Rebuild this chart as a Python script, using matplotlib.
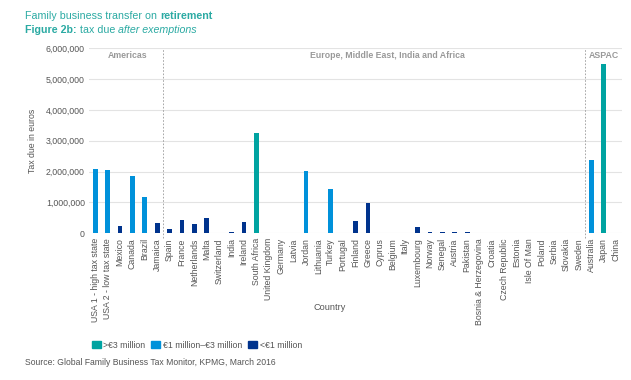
import matplotlib.pyplot as plt
from matplotlib.patches import Patch
from matplotlib.ticker import FuncFormatter

plt.rcParams['font.family'] = ['Liberation Sans', 'DejaVu Sans']

# Datos (impuesto en euros)
paises = [
    "USA 1 - high tax state", "USA 2 - low tax state", "Mexico", "Canada",
    "Brazil", "Jamaica", "Spain", "France", "Netherlands", "Malta",
    "Switzerland", "India", "Ireland", "South Africa", "United Kingdom",
    "Germany", "Latvia", "Jordan", "Lithuania", "Turkey", "Portugal",
    "Finland", "Greece", "Cyprus", "Belgium", "Italy", "Luxembourg",
    "Norway", "Senegal", "Austria", "Pakistan", "Bosnia & Herzegovina",
    "Croatia", "Czech Republic", "Estonia", "Isle Of Man", "Poland",
    "Serbia", "Slovakia", "Sweden", "Australia", "Japan", "China",
]
impuesto = [
    2080000, 2050000, 240000, 1870000, 1180000, 330000, 140000, 430000,
    290000, 500000, 0, 40000, 370000, 3240000, 0, 0, 0, 2030000, 0,
    1430000, 0, 390000, 990000, 0, 0, 0, 190000, 30000, 30000, 30000,
    30000, 0, 0, 0, 0, 0, 0, 0, 0, 0, 2380000, 5480000, 0,
]
regiones = ["Americas", "Europe, Middle East, India and Africa", "ASPAC"]
centros_regiones = [2.6, 23.6, 41.0]
limites_regiones = [5.5, 39.5]

TEAL = "#00A3A1"
AZUL = "#0091DA"
AZUL_OSCURO = "#00338D"
GRIS = "#555555"
VERDE_TITULO = "#2BAAA3"


def color_de(v):
    if v > 3000000:
        return TEAL
    if v >= 1000000:
        return AZUL
    return AZUL_OSCURO


def texto_seguido(fig, x, y, partes):
    # escribe varios trozos de texto uno detras del otro en la misma linea
    r = fig.canvas.get_renderer()
    for txt, kw in partes:
        t = fig.text(x, y, txt, fontsize=7.7, color=VERDE_TITULO, **kw)
        bb = t.get_window_extent(renderer=r)
        x += bb.width / fig.bbox.width


fig = plt.figure(figsize=(6.31, 3.80), dpi=100)
ax = fig.add_axes([0.141, 0.386, 0.845, 0.487])

x = list(range(len(paises)))
ax.bar(x, impuesto, width=0.38, color=[color_de(v) for v in impuesto], zorder=3)

ax.set_xlim(-0.5, len(paises) - 0.5)
ax.set_ylim(0, 6000000)
ax.set_yticks(range(0, 6000001, 1000000))
ax.yaxis.set_major_formatter(FuncFormatter(lambda v, p: f"{int(v):,}"))
ax.grid(axis="y", color="#E3E3E3", linewidth=0.8, zorder=0)
for s in ax.spines.values():
    s.set_visible(False)
ax.tick_params(axis="both", length=0, colors=GRIS, labelsize=6.3)
ax.tick_params(axis="y", pad=3)
ax.set_xticks(x)
ax.set_xticklabels(paises, rotation=90, fontsize=6.3, color=GRIS)

ax.set_ylabel("Tax due in euros", fontsize=6.3, color=GRIS, labelpad=6)
fig.text(330 / 631, 1 - 307 / 380, "Country", fontsize=6.6, color=GRIS,
         ha="center", va="center")

# separadores de region
for lim in limites_regiones:
    ax.plot([lim, lim], [-150000, 6000000], color="#999999", linestyle=(0, (2, 2)),
            linewidth=0.6, clip_on=False, zorder=2)
for nombre, cx in zip(regiones, centros_regiones):
    ax.text(cx, 5750000, nombre, ha="center", va="center", fontsize=6.3,
            fontweight="bold", color="#999999")

# titulo
texto_seguido(fig, 0.040, 0.950, [("Family business transfer on ", {}),
                                  ("retirement", {"fontweight": "bold"})])
texto_seguido(fig, 0.040, 0.914, [("Figure 2b:", {"fontweight": "bold"}),
                                  (" tax due ", {}),
                                  ("after exemptions", {"style": "italic"})])

# leyenda
handles = [Patch(color=TEAL), Patch(color=AZUL), Patch(color=AZUL_OSCURO)]
etiquetas = [">€3 million", "€1 million–€3 million", "<€1 million"]
fig.legend(handles, etiquetas, loc="center left", bbox_to_anchor=(0.133, 0.092),
           ncol=3, frameon=False, fontsize=6.3, handlelength=1.0, handleheight=1.0,
           handletextpad=0.3, columnspacing=0.7, labelcolor=GRIS)

fig.text(0.040, 0.040, "Source: Global Family Business Tax Monitor, KPMG, March 2016",
         fontsize=6.2, color=GRIS)

fig.savefig("out.png", dpi=100)
